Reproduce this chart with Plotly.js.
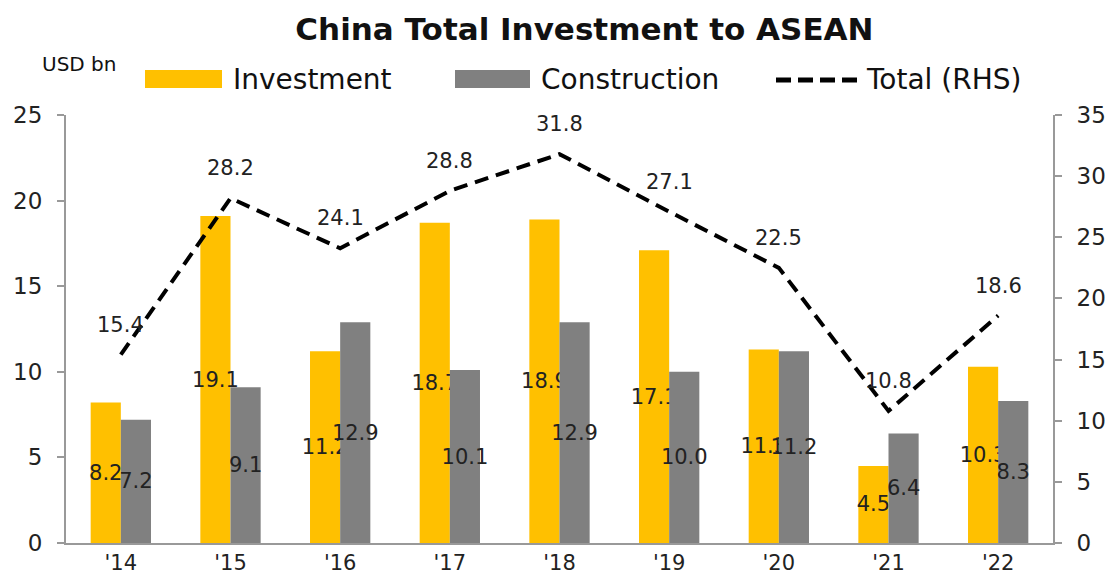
<!DOCTYPE html>
<html>
<head>
<meta charset="utf-8">
<script src="https://cdn.plot.ly/plotly-3.0.1.min.js"></script>
<style>html,body{margin:0;padding:0;background:#fff;}#chart{width:1109px;height:577px;}</style>
</head>
<body>
<div id="chart"></div>
<script>
var categories = ["'14", "'15", "'16", "'17", "'18", "'19", "'20", "'21", "'22"];
var investment = [8.2, 19.1, 11.2, 18.7, 18.9, 17.1, 11.3, 4.5, 10.3];
var construction = [7.2, 9.1, 12.9, 10.1, 12.9, 10.0, 11.2, 6.4, 8.3];
var total = [15.4, 28.2, 24.1, 28.8, 31.8, 27.1, 22.5, 10.8, 18.6];
var leftTicks = [0, 5, 10, 15, 20, 25];
var rightTicks = [0, 5, 10, 15, 20, 25, 30, 35];

var W = 1109, H = 577;
var M = {l: 66, r: 56, t: 115, b: 34};
var PW = W - M.l - M.r, PH = H - M.t - M.b;
function px(x) { return (x - M.l) / PW; }
function py(y) { return (H - M.b - y) / PH; }

var labelFont = {family: 'DejaVu Sans, Verdana, sans-serif', size: 21, color: '#222'};
var fmt = function (v) { return v.toFixed(1); };

var traces = [
  {
    type: 'bar', name: 'Investment', x: categories, y: investment,
    marker: {color: '#FFC000'},
    text: investment.map(fmt), textposition: 'inside', insidetextanchor: 'middle',
    constraintext: 'none', textangle: 0, textfont: labelFont, cliponaxis: false,
    hoverinfo: 'y'
  },
  {
    type: 'bar', name: 'Construction', x: categories, y: construction,
    marker: {color: '#808080'},
    text: construction.map(fmt), textposition: 'inside', insidetextanchor: 'middle',
    constraintext: 'none', textangle: 0, textfont: labelFont, cliponaxis: false,
    hoverinfo: 'y'
  },
  {
    type: 'scatter', mode: 'lines', name: 'Total (RHS)', x: categories, y: total,
    yaxis: 'y2', line: {color: '#000', width: 4, dash: '14px,8px'},
    cliponaxis: false, hoverinfo: 'y'
  }
];

var annotations = total.map(function (v, i) {
  return {x: categories[i], y: v, xref: 'x', yref: 'y2', text: fmt(v), showarrow: false,
          yshift: 30, font: labelFont};
});
annotations.push({xref: 'paper', yref: 'paper', x: px(40), y: py(64), xanchor: 'left', yanchor: 'middle',
  text: 'USD bn', showarrow: false, font: {family: 'DejaVu Sans, sans-serif', size: 20, color: '#111'}});
var legFont = {family: 'DejaVu Sans, sans-serif', size: 28, color: '#111'};
var legendItems = [
  {text: 'Investment', x: 231},
  {text: 'Construction', x: 539},
  {text: 'Total (RHS)', x: 864}
];
legendItems.forEach(function (it) {
  annotations.push({xref: 'paper', yref: 'paper', x: px(it.x), y: py(79), xanchor: 'left', yanchor: 'middle',
    text: it.text, showarrow: false, font: legFont});
});

var shapes = [
  {type: 'rect', xref: 'paper', yref: 'paper', x0: px(145), x1: px(222), y0: py(88), y1: py(70),
   fillcolor: '#FFC000', line: {width: 0}},
  {type: 'rect', xref: 'paper', yref: 'paper', x0: px(455), x1: px(530), y0: py(88), y1: py(70),
   fillcolor: '#808080', line: {width: 0}},
  {type: 'line', xref: 'paper', yref: 'paper', x0: px(776), x1: px(860), y0: py(80), y1: py(80),
   line: {color: '#000', width: 5, dash: '15px,7px'}}
];

var tickFont = {family: 'DejaVu Sans, Verdana, sans-serif', size: 23, color: '#222'};
var xTickFont = {family: 'DejaVu Sans, Verdana, sans-serif', size: 21, color: '#222'};
var layout = {
  width: W, height: H,
  margin: M,
  paper_bgcolor: '#fff', plot_bgcolor: '#fff',
  showlegend: false,
  barmode: 'group', bargap: 0.45, bargroupgap: 0,
  title: {text: '<b>China Total Investment to ASEAN</b>', x: 0.527, xanchor: 'center', y: 1 - 29 / H, yanchor: 'middle',
          font: {family: 'DejaVu Sans, sans-serif', size: 31, color: '#111'}},
  xaxis: {type: 'category', showline: true, linecolor: '#999', linewidth: 2, ticks: '',
          tickfont: xTickFont, showgrid: false, zeroline: false, fixedrange: true},
  yaxis: {range: [0, 25], tickvals: leftTicks, showline: true, linecolor: '#999', linewidth: 2,
          ticks: 'outside', ticklen: 7, tickwidth: 2, tickcolor: '#999', ticklabelstandoff: 10,
          tickfont: tickFont, showgrid: false, zeroline: false, fixedrange: true},
  yaxis2: {range: [0, 35], tickvals: rightTicks, overlaying: 'y', side: 'right', showline: true,
          linecolor: '#999', linewidth: 2, ticks: 'outside', ticklen: 7, tickwidth: 2, tickcolor: '#999',
          ticklabelstandoff: 10, tickfont: tickFont, showgrid: false, zeroline: false, fixedrange: true},
  annotations: annotations,
  shapes: shapes
};

Plotly.newPlot('chart', traces, layout, {displayModeBar: false, staticPlot: true});
</script>
</body>
</html>
